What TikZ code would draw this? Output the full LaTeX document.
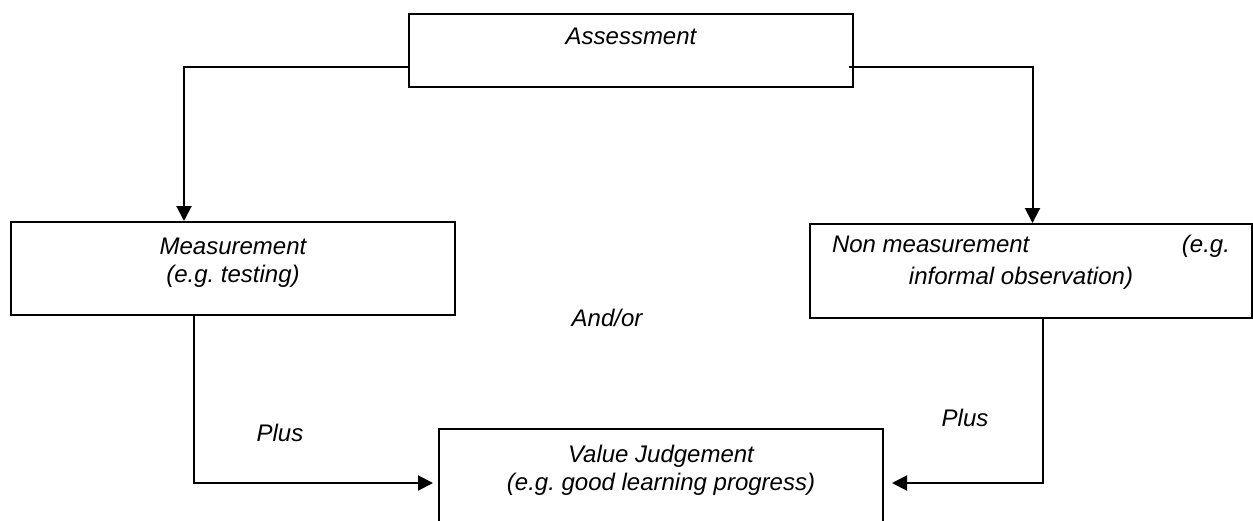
\documentclass[tikz,border=0pt]{standalone}
\usepackage{fontspec}
\setmainfont{Liberation Sans}
\frenchspacing
\usetikzlibrary{arrows.meta, positioning}

\tikzset{
    block/.style={draw, line width=1pt, rectangle, inner sep=0pt, anchor=north west},
    blocktext/.style={inner sep=0pt, align=center, font=\fontsize{12pt}{14pt}\selectfont\itshape},
    link/.style={line width=1pt, -{Triangle[length=7.5pt, width=7.5pt]}},
}

\begin{document}
\begin{tikzpicture}[x=0.5pt, y=-0.5pt]
    \useasboundingbox (0,0) rectangle (1253,520);

    % boxes
    \node [block, minimum width=222pt, minimum height=36.5pt] (assess) at (408,13) {};
    \node [block, minimum width=222pt, minimum height=46.5pt] (meas) at (10,221) {};
    \node [block, minimum width=221pt, minimum height=47pt] (nonmeas) at (809,223) {};
    \node [block, minimum width=222pt, minimum height=54pt] (valj) at (438,428) {};

    % texts in the boxes
    \node [blocktext, below=7.5pt of assess.north] (assesstext) {Assessment};
    \node [blocktext, below=8.5pt of meas.north] (meastext) {Measurement\\(e.g. testing)};
    \node [blocktext, below=6pt of nonmeas.north] (nonmeastext)
        {\makebox[199pt]{Non measurement\hfill(e.g.}\\[2pt]informal observation)\hspace*{10pt}};
    \node [blocktext, below=8.5pt of valj.north] (valjtext) {Value Judgement\\(e.g. good learning progress)};

    % free labels
    \node [blocktext] (andor) at (607,318) {And/or};
    \node [blocktext] (plusleft) at (280,433) {Plus};
    \node [blocktext] (plusright) at (965,418) {Plus};

    % connectors
    \draw [link] ([yshift=-8.25pt]assess.west) -| ([xshift=-24.5pt]meas.north);
    \draw [link] ([xshift=-2.5pt, yshift=-8.25pt]assess.east) -| ([xshift=0.75pt]nonmeas.north);
    \draw [link, shorten >=2.5pt] ([xshift=-19.5pt]meas.south) |- (valj.west);
    \draw [link, shorten >=4pt] ([xshift=5.75pt]nonmeas.south) |- (valj.east);
\end{tikzpicture}
\end{document}
